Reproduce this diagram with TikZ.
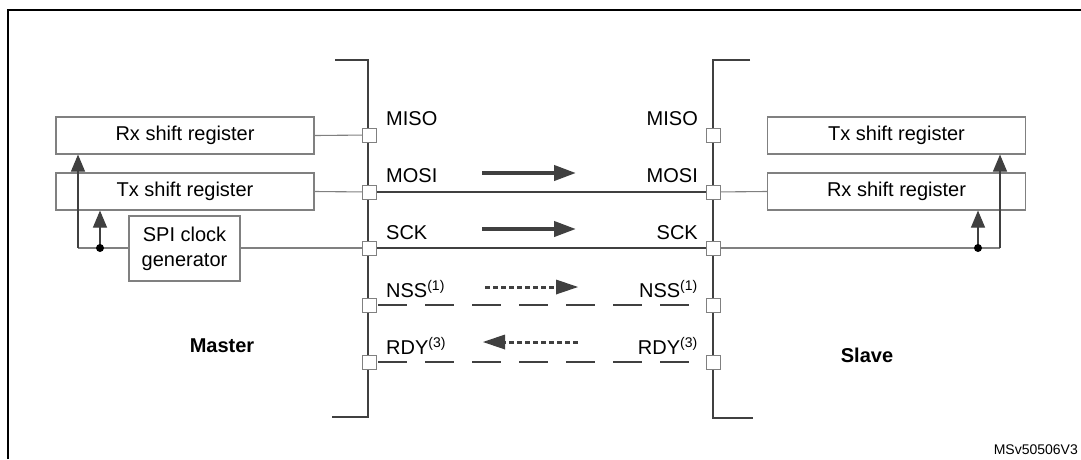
\documentclass[tikz,border=0pt]{standalone}
\usepackage{fontspec}
\setmainfont{Liberation Sans}
\usetikzlibrary{arrows.meta}
\definecolor{dk}{HTML}{404040}
\definecolor{lg}{HTML}{808080}
\begin{document}
\begin{tikzpicture}[x=1pt,y=-1pt,
  reg/.style={draw=lg,line width=1.1pt,minimum width=258pt,minimum height=37pt,font=\fontsize{20}{22}\selectfont,inner sep=0pt},
  port/.style={draw=lg,fill=white,line width=1pt,minimum size=14pt,inner sep=0pt},
  bus/.style={draw=dk,line width=2pt},
  wire/.style={draw=lg,line width=1.1pt},
  sig/.style={draw=dk,line width=2pt},
  lbl/.style={font=\fontsize{20}{22}\selectfont,inner sep=0pt},
  big/.style={-{Triangle[length=22pt,width=15pt]},draw=dk,fill=dk,line width=4pt},
  up/.style={-{Triangle[length=17pt,width=14pt]},draw=dk,line width=1.1pt,fill=dk},
  dot/.style={circle,fill=black,inner sep=0pt,minimum size=8pt}]
\useasboundingbox (0,0) rectangle (1081,459);
\draw[line width=2pt] (8,459) -- (8,10) -- (1081,10);
% buses
\draw[bus] (335,60) -- (368,60) -- (368,417) -- (332,417);
\draw[bus] (750,60) -- (713,60) -- (713,418) -- (753,418);
% boxes
\node[reg] (mrx) at (185,135.5) {Rx shift register};
\node[reg] (mtx) at (185,191.5) {Tx shift register};
\node[draw=lg,line width=1.1pt,minimum width=111pt,minimum height=65pt,inner sep=0pt,align=center,font=\fontsize{20}{25}\selectfont] (clk) at (184.5,248.5) {SPI clock\\generator};
\node[reg] (stx) at (896.5,135.5) {Tx shift register};
\node[reg] (srx) at (896.5,191.5) {Rx shift register};
% signal lines
\coordinate (mmiso) at (369,135); \coordinate (smiso) at (713,135);
\coordinate (mmosi) at (369,192); \coordinate (smosi) at (713,192);
\coordinate (msck) at (369,248); \coordinate (ssck) at (713,248);
\coordinate (mnss) at (369,305); \coordinate (snss) at (713,305);
\coordinate (mrdy) at (369,362); \coordinate (srdy) at (713,362);
\draw[wire] (mrx.east) -- (mmiso);
\draw[wire] (mtx.east) -- (mmosi);
\draw[wire] (clk.east |- msck) -- (msck);
\draw[sig] (mmosi) -- (smosi);
\draw[sig] (msck) -- (ssck);
\draw[sig,dash pattern=on 29pt off 18pt] (mnss) ++(9,0) -- (snss);
\draw[sig,dash pattern=on 29pt off 18pt] (mrdy) ++(9,0) -- (srdy);
\draw[wire] (smosi) -- (srx.west);
% master clock distribution
\coordinate (mdot) at (100,248);
\draw[wire] (clk.west |- msck) -- (78,248);
\draw[up] (78,248) -- (mrx.south -| 78,0);
\draw[up] (mdot) -- (mtx.south -| 100,0);
\node[dot] at (mdot) {};
% slave
\coordinate (sdot) at (978,248);
\draw[wire] (ssck) -- (1000,248);
\draw[up] (1000,248) -- (stx.south -| 1000,0);
\draw[up] (sdot) -- (srx.south -| 978,0);
\node[dot] at (sdot) {};
% ports
\foreach \p in {mmiso,mmosi,msck,mnss,mrdy,smiso,smosi,ssck,snss,srdy} \node[port] at (\p) {};
% labels
\foreach \y/\t in {119/MISO,176/MOSI,233/SCK,289/NSS\textsuperscript{(1)},346/RDY\textsuperscript{(3)}} {
  \node[lbl,anchor=west] at (386,\y) {\t};
  \node[lbl,anchor=east] at (698,\y) {\t};
}
% direction arrows
\draw[big] (482,173) -- (576,173);
\draw[big] (482,229) -- (576,229);
\draw[draw=dk,line width=3pt,dash pattern=on 5pt off 3pt] (485,287) -- (560,287);
\fill[dk] (578,287) -- (556,279.5) -- (556,294.5) -- cycle;
\draw[draw=dk,line width=3pt,dash pattern=on 5pt off 3pt] (578,342) -- (503,342);
\fill[dk] (483,342) -- (505,334.5) -- (505,349.5) -- cycle;
\node[lbl,font=\fontsize{20}{22}\selectfont\bfseries] (m) at (222,346) {Master};
\node[lbl,font=\fontsize{20}{22}\selectfont\bfseries] (s) at (867,355) {Slave};
\node[lbl,anchor=east,font=\fontsize{14}{16}\selectfont] (id) at (1078,450) {MSv50506V3};
\end{tikzpicture}
\end{document}
